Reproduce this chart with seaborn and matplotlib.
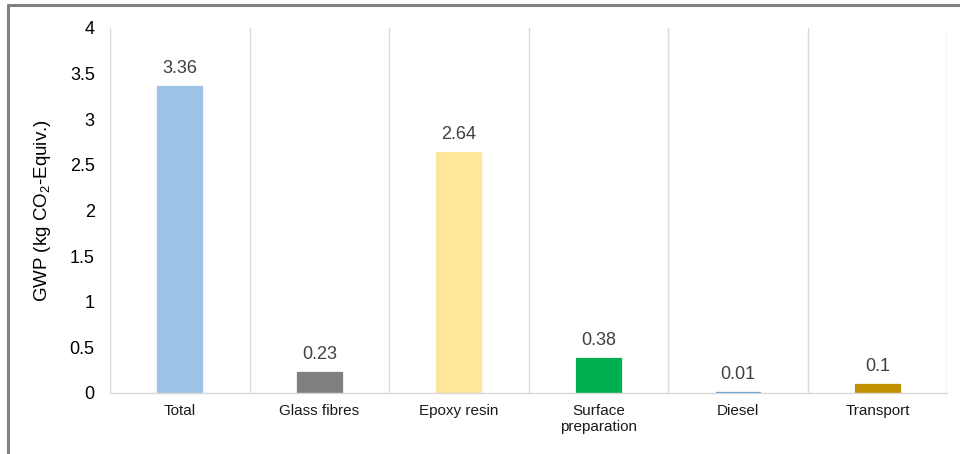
import matplotlib
matplotlib.use("Agg")
import matplotlib.pyplot as plt
import pandas as pd
import seaborn as sns
from matplotlib.lines import Line2D

categories = ["Total", "Glass fibres", "Epoxy resin", "Surface\npreparation", "Diesel", "Transport"]
gwp_values = [3.36, 0.23, 2.64, 0.38, 0.01, 0.1]
value_labels = ["3.36", "0.23", "2.64", "0.38", "0.01", "0.1"]
bar_colors = ["#9DC3E6", "#7F7F7F", "#FFE699", "#00B050", "#5B9BD5", "#BF9000"]
y_ticks = [0, 0.5, 1, 1.5, 2, 2.5, 3, 3.5, 4]
y_tick_labels = ["0", "0.5", "1", "1.5", "2", "2.5", "3", "3.5", "4"]

sns.set_theme(style="white")
plt.rcParams["font.family"] = ["Liberation Sans", "DejaVu Sans"]
plt.rcParams["mathtext.fontset"] = "custom"
plt.rcParams["mathtext.rm"] = "Liberation Sans"
plt.rcParams["mathtext.default"] = "regular"

df = pd.DataFrame({"category": categories, "gwp": gwp_values})

fig = plt.figure(figsize=(9.6, 4.54), dpi=100)
ax = fig.add_axes([0.1146, 0.1344, 0.872, 0.804])

sns.barplot(
    data=df,
    x="category",
    y="gwp",
    hue="category",
    order=categories,
    hue_order=categories,
    palette=dict(zip(categories, bar_colors)),
    width=0.32,
    legend=False,
    saturation=1,
    ax=ax,
)

for bar, lab in zip(ax.patches, value_labels):
    # outline in the fill colour so the tiny Diesel bar still shows
    bar.set_edgecolor(bar.get_facecolor())
    bar.set_linewidth(0.9)
    ax.annotate(
        lab,
        (bar.get_x() + bar.get_width() / 2, bar.get_height()),
        xytext=(0, 6.5),
        textcoords="offset points",
        ha="center",
        va="bottom",
        fontsize=13,
        color="#404040",
    )

ax.set_xlim(-0.5, len(categories) - 0.5)
ax.set_ylim(0, 4)
ax.set_yticks(y_ticks)
ax.set_yticklabels(y_tick_labels, fontsize=13, color="#000000")
ax.tick_params(axis="y", length=0, pad=11)
ax.tick_params(axis="x", which="major", length=0, labelsize=11, pad=8, labelcolor="#1a1a1a")

# vertical separators between categories
ax.set_xticks([i - 0.5 for i in range(len(categories) + 1)], minor=True)
ax.tick_params(axis="x", which="minor", length=5, color="#D9D9D9", width=1)
ax.grid(axis="x", which="minor", color="#D9D9D9", linewidth=1)
ax.grid(axis="x", which="major", visible=False)
ax.grid(axis="y", visible=False)

for side in ["top", "right", "left"]:
    ax.spines[side].set_visible(False)
ax.spines["bottom"].set_color("#D9D9D9")
ax.spines["bottom"].set_linewidth(1)

ax.set_xlabel("")
ax.set_ylabel("GWP (kg CO$_2$-Equiv.)", fontsize=13.5, color="#000000", labelpad=12)

# outer frame (top and left edge visible)
fig.add_artist(Line2D([8 / 960, 1.0], [1 - 5 / 454, 1 - 5 / 454], color="#808080", linewidth=2.2))
fig.add_artist(Line2D([8 / 960, 8 / 960], [0.0, 1 - 5 / 454], color="#808080", linewidth=2.2))

fig.savefig("out.png", dpi=100)
